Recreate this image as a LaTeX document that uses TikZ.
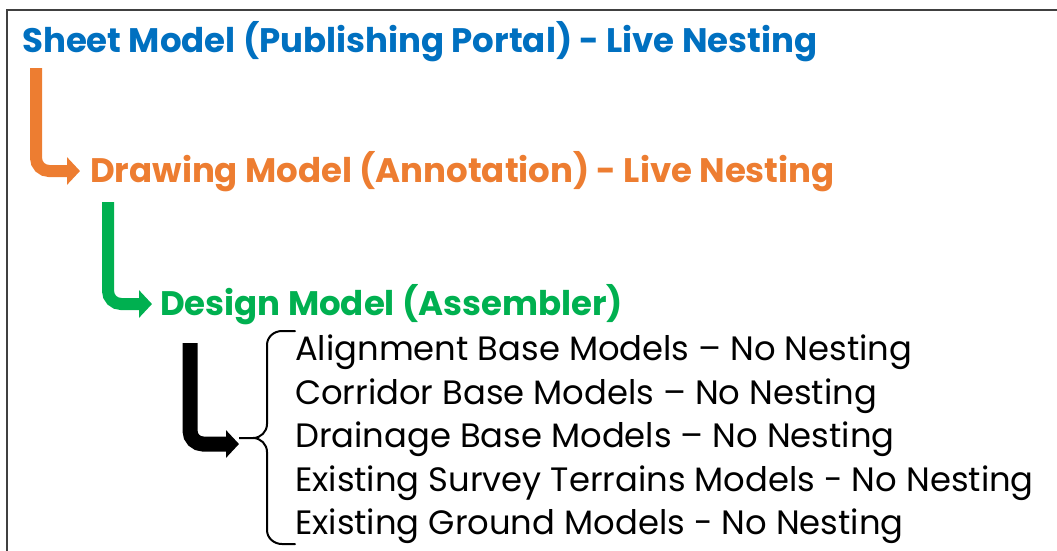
\documentclass[tikz,border=0pt]{standalone}
\usepackage{fontspec}
\setmainfont{Poppins}
\usetikzlibrary{arrows.meta}

\definecolor{sheetblue}{HTML}{0070C0}
\definecolor{draworange}{HTML}{ED7D31}
\definecolor{designgreen}{HTML}{00B050}

\begin{document}
\begin{tikzpicture}[x=1pt,y=-1pt,
            level/.style={anchor=base west,inner sep=0pt,font=\fontsize{34}{40}\selectfont\bfseries},
            item/.style={anchor=base west,inner sep=0pt,font=\fontsize{33.8}{40}\selectfont},
            flow/.style={line width=12pt,rounded corners=13pt,
                -{Triangle[length=13pt,width=27pt]}},
            brace/.style={line width=2pt,line cap=round}]
            \useasboundingbox (0,0) rectangle (1057,550);
            \draw[line width=1.4pt,black!75] (7,560) -- (7,10) -- (1060,10);

            \node[level,sheetblue] (sheet) at (22,52) {Sheet Model (Publishing Portal) - Live Nesting};
            \node[level,draworange] (drawing) at (90,182) {Drawing Model (Annotation) - Live Nesting};
            \node[level,designgreen] (design) at (160,315) {Design Model (Assembler)};

            \node[item] (align) at (295,360) {Alignment Base Models – No Nesting};
            \node[item] (corridor) at (295,404) {Corridor Base Models – No Nesting};
            \node[item] (drainage) at (295,447) {Drainage Base Models – No Nesting};
            \node[item] (survey) at (295,491) {Existing Survey Terrains Models - No Nesting};
            \node[item] (ground) at (295,534) {Existing Ground Models - No Nesting};

            % brace round the base models
            \coordinate (tip) at (239,438);
            \draw[brace] (295,331) -- (282,331) to[out=180,in=90] (267,345)
                -- (267,424) to[out=-90,in=0] (253,438) -- (tip)
                -- (253,438) to[out=0,in=90] (267,452)
                -- (267,530) to[out=-90,in=180] (282,544) -- (295,544);

            \draw[flow,draworange] ([xshift=14pt,yshift=-16pt]sheet.base west)
                |- ([xshift=-10pt,yshift=11pt]drawing.base west);
            \draw[flow,designgreen] ([xshift=18pt,yshift=-20pt]drawing.base west)
                |- ([xshift=-8pt,yshift=11pt]design.base west);
            \draw[flow,black,line width=15pt] ([xshift=30pt,yshift=-28pt]design.base west)
                |- ([yshift=-6pt]tip);
        \end{tikzpicture}
\end{document}
